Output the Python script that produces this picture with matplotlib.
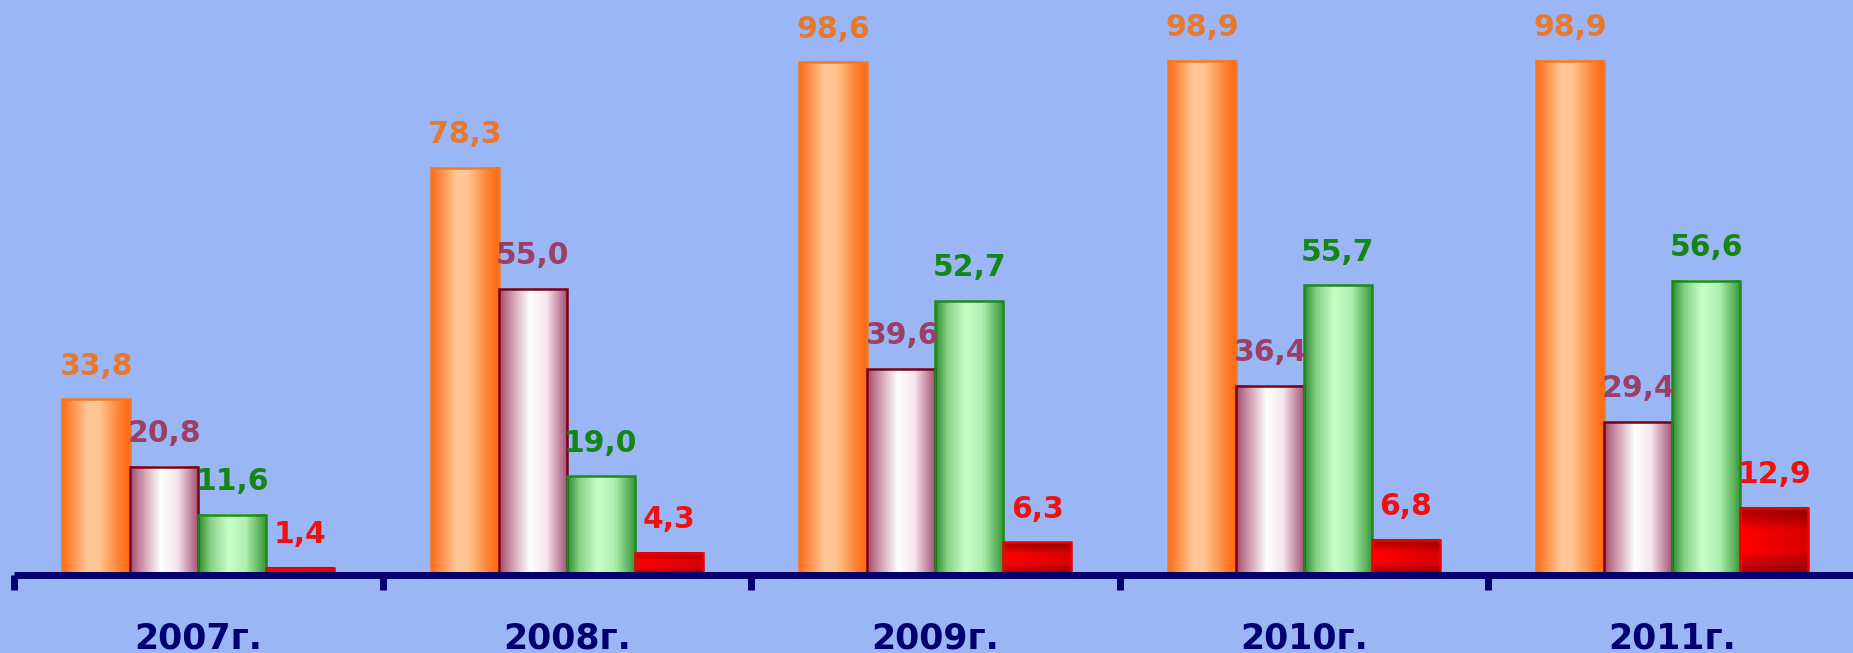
import numpy as np
import matplotlib
matplotlib.use("Agg")
import matplotlib.pyplot as plt
from matplotlib.colors import LinearSegmentedColormap

categories = ["2007г.", "2008г.", "2009г.", "2010г.", "2011г."]
series_orange = [33.8, 78.3, 98.6, 98.9, 98.9]
series_white = [20.8, 55.0, 39.6, 36.4, 29.4]
series_green = [11.6, 19.0, 52.7, 55.7, 56.6]
series_red = [1.4, 4.3, 6.3, 6.8, 12.9]

series = [series_orange, series_white, series_green, series_red]
label_colors = ["#E8782C", "#9A3F66", "#15851A", "#F01010"]
edge_colors = ["#F07A2A", "#7A0010", "#1E8A1E", "#F00000"]
# gradient stops (position, colour); last series is vertical
grad_stops = [
    [(0.0, "#FF6A12"), (0.12, "#FF8A40"), (0.38, "#FFC898"), (0.55, "#FFC590"), (0.85, "#FF8030"), (1.0, "#FF6A12")],
    [(0.0, "#A04A6E"), (0.15, "#C88AA0"), (0.45, "#FFFFFF"), (0.7, "#F4E6EC"), (1.0, "#A85478")],
    [(0.0, "#2A8A2A"), (0.18, "#88D088"), (0.45, "#C8FFC8"), (0.7, "#B0F0B0"), (1.0, "#3A9A3A")],
    [(0.0, "#A00000"), (0.35, "#FF0000"), (0.65, "#FF0000"), (1.0, "#A00010")],
]

BG = "#9AB6F4"
NAVY = "#000070"

fig = plt.figure(figsize=(18.53, 6.53), dpi=100, facecolor=BG)
ax = fig.add_axes([0, 0, 1, 1])
ax.set_facecolor(BG)
for s in ax.spines.values():
    s.set_visible(False)
ax.set_xticks([])
ax.set_yticks([])

n = len(categories)
x = np.arange(n)
w = 0.1845
offsets = [-1.5 * w, -0.5 * w, 0.5 * w, 1.5 * w]

for i, vals in enumerate(series):
    cmap = LinearSegmentedColormap.from_list(f"g{i}", grad_stops[i])
    bars = ax.bar(x + offsets[i], vals, w, facecolor="none",
                  edgecolor=edge_colors[i], linewidth=1.8, zorder=3)
    for b, v in zip(bars, vals):
        bx, by, bw, bh = b.get_x(), b.get_y(), b.get_width(), b.get_height()
        if i == 3:
            g = np.linspace(0, 1, 64).reshape(-1, 1)
            img = cmap(g)
            shade = np.linspace(1.0, 0.85, 32)
            img = np.repeat(img, 32, axis=1)
            img[..., :3] *= shade[None, :, None]
        else:
            g = np.linspace(0, 1, 128).reshape(1, -1)
            img = cmap(g)
        ax.imshow(img, extent=[bx, bx + bw, by, by + bh], aspect="auto",
                  interpolation="bilinear", zorder=2, origin="upper")
        ax.text(bx + bw / 2, v + 3.6, f"{v:.1f}".replace(".", ","),
                ha="center", va="bottom", fontsize=21.5, fontweight="bold",
                color=label_colors[i], family="DejaVu Sans", zorder=4)

# axis line and ticks
ax.plot([-0.5, n - 0.5], [0, 0], color=NAVY, lw=5, zorder=5, solid_capstyle="butt")
ax.vlines(np.arange(n + 1) - 0.5, -2.9, 0, color=NAVY, lw=5, zorder=5)

for xi, c in zip(x, categories):
    ax.text(xi, -14.2, c, ha="center", va="baseline", fontsize=25,
            fontweight="bold", color=NAVY, family="DejaVu Sans")

ax.set_xlim(-0.538, 4.49)
ax.set_ylim(-15.0, 110.6)

fig.savefig("out.png", dpi=100, facecolor=BG)
